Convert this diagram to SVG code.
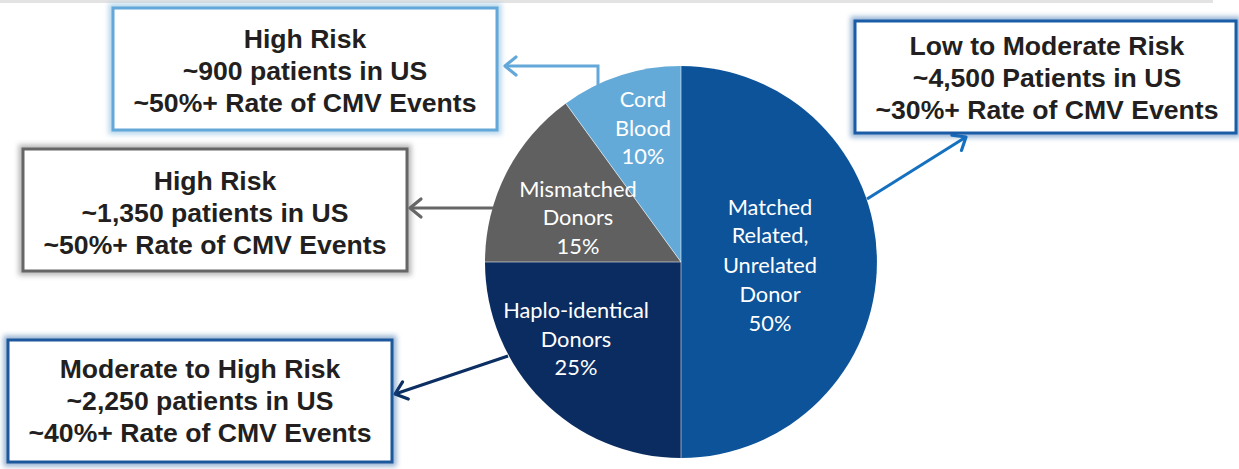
<svg xmlns="http://www.w3.org/2000/svg" width="1239" height="469" viewBox="0 0 1239 469">
<style>
.box{fill:#ffffff;stroke-width:3}
.glow{fill:none;stroke-width:9;opacity:0.45;filter:url(#blur)}
.bt{font-family:"Liberation Sans",Arial,sans-serif;font-weight:bold;font-size:26.6px;fill:#231f20;text-anchor:middle}
.pl{font-family:Lato,"Open Sans",sans-serif;font-size:21.8px;fill:#ffffff;text-anchor:middle}
.sep{fill:none;stroke:#ffffff;stroke-opacity:0.55;stroke-width:1}
.conn{fill:none;stroke-width:3}
</style>
<defs>
<filter id="blur" x="-10%" y="-20%" width="120%" height="140%"><feGaussianBlur stdDeviation="2.5"/></filter>
<marker id="mLight" markerUnits="userSpaceOnUse" markerWidth="30" markerHeight="30" viewBox="-15 -15 30 30" refX="0" refY="0" orient="auto"><path d="M-11,-9 L0,0 L-11,9" fill="none" stroke="#63a8d8" stroke-width="3.2" stroke-linecap="round" stroke-linejoin="round"/></marker>
<marker id="mGray" markerUnits="userSpaceOnUse" markerWidth="30" markerHeight="30" viewBox="-15 -15 30 30" refX="0" refY="0" orient="auto"><path d="M-11,-9 L0,0 L-11,9" fill="none" stroke="#666666" stroke-width="3.2" stroke-linecap="round" stroke-linejoin="round"/></marker>
<marker id="mNavy" markerUnits="userSpaceOnUse" markerWidth="30" markerHeight="30" viewBox="-15 -15 30 30" refX="0" refY="0" orient="auto"><path d="M-11,-9 L0,0 L-11,9" fill="none" stroke="#0b2e63" stroke-width="3.2" stroke-linecap="round" stroke-linejoin="round"/></marker>
<marker id="mBlue" markerUnits="userSpaceOnUse" markerWidth="30" markerHeight="30" viewBox="-15 -15 30 30" refX="0" refY="0" orient="auto"><path d="M-11,-9 L0,0 L-11,9" fill="none" stroke="#1571c0" stroke-width="3.2" stroke-linecap="round" stroke-linejoin="round"/></marker>
</defs>
<rect x="0" y="0" width="1213" height="3" fill="#e3e3e3"/>

<g id="pie">
<path d="M681,262 L681,66 A196,196 0 0,1 681,458 Z" fill="#0c5399"/>
<path d="M681,262 L681,458 A196,196 0 0,1 485,262 Z" fill="#0b2c60"/>
<path d="M681,262 L485,262 A196,196 0 0,1 565.8,103.4 Z" fill="#606060"/>
<path d="M681,262 L565.8,103.4 A196,196 0 0,1 681,66 Z" fill="#64aad8"/>
<path class="sep" d="M681,66 L681,458 M681,262 L485,262 M681,262 L565.8,103.4"/>
</g>

<g id="slice-labels">
<text class="pl" x="643" y="107">Cord</text>
<text class="pl" x="643" y="136">Blood</text>
<text class="pl" x="643" y="164">10%</text>
<text class="pl" x="578" y="197">Mismatched</text>
<text class="pl" x="578" y="225">Donors</text>
<text class="pl" x="578" y="254">15%</text>
<text class="pl" x="770" y="215">Matched</text>
<text class="pl" x="770" y="243">Related,</text>
<text class="pl" x="770" y="273">Unrelated</text>
<text class="pl" x="770" y="302">Donor</text>
<text class="pl" x="770" y="331">50%</text>
<text class="pl" x="576" y="318">Haplo-identical</text>
<text class="pl" x="576" y="347">Donors</text>
<text class="pl" x="576" y="375">25%</text>
</g>

<g id="connectors">
<polyline class="conn" points="598,85 598,66 505,66" stroke="#63a8d8" marker-end="url(#mLight)"/>
<line class="conn" x1="493" y1="208" x2="410" y2="208" stroke="#666666" marker-end="url(#mGray)"/>
<line class="conn" x1="508" y1="356" x2="395" y2="394" stroke="#0b2e63" marker-end="url(#mNavy)"/>
<line class="conn" x1="867" y1="199" x2="966" y2="137" stroke="#1571c0" marker-end="url(#mBlue)"/>
</g>

<g id="box-cord">
<rect class="glow" x="113" y="8" width="384" height="122" stroke="#63a8d8"/>
<rect class="box" x="113" y="8" width="384" height="122" stroke="#63a8d8"/>
<text class="bt" x="305" y="48">High Risk</text>
<text class="bt" x="305" y="80">~900 patients in US</text>
<text class="bt" x="305" y="112">~50%+ Rate of CMV Events</text>
</g>

<g id="box-mismatched">
<rect class="glow" x="23" y="149" width="384" height="122" stroke="#666666"/>
<rect class="box" x="23" y="149" width="384" height="122" stroke="#666666"/>
<text class="bt" x="215" y="190">High Risk</text>
<text class="bt" x="215" y="222">~1,350 patients in US</text>
<text class="bt" x="215" y="254">~50%+ Rate of CMV Events</text>
</g>

<g id="box-haplo">
<rect class="glow" x="8" y="340" width="384" height="122" stroke="#1d589c"/>
<rect class="box" x="8" y="340" width="384" height="122" stroke="#1d589c"/>
<text class="bt" x="200" y="378">Moderate to High Risk</text>
<text class="bt" x="200" y="410">~2,250 patients in US</text>
<text class="bt" x="200" y="442">~40%+ Rate of CMV Events</text>
</g>

<g id="box-matched">
<rect class="glow" x="855" y="21" width="381" height="112" stroke="#1b5ca6"/>
<rect class="box" x="855" y="21" width="381" height="112" stroke="#1b5ca6"/>
<text class="bt" x="1047" y="55">Low to Moderate Risk</text>
<text class="bt" x="1047" y="87">~4,500 Patients in US</text>
<text class="bt" x="1047" y="119">~30%+ Rate of CMV Events</text>
</g>
</svg>
